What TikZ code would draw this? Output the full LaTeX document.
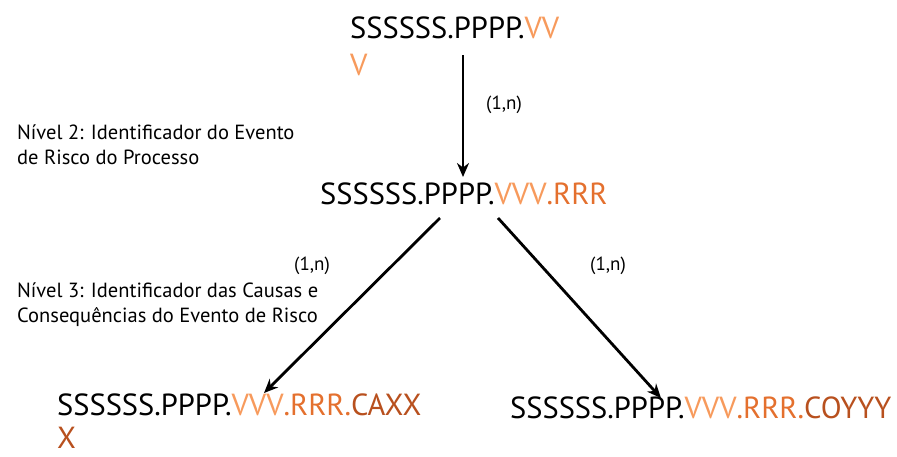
\documentclass[tikz,border=0pt]{standalone}
\usepackage{fontspec}
\setmainfont{PT Sans}
\usetikzlibrary{arrows.meta}
\definecolor{cV}{HTML}{F79A5C}
\definecolor{cR}{HTML}{E4702E}
\definecolor{cC}{HTML}{B8501E}
\begin{document}
\begin{tikzpicture}[x=1pt,y=-1pt,
  code/.style={font=\fontsize{30.5}{37}\selectfont, inner sep=0pt, anchor=base west, align=left},
  lbl/.style={font=\fontsize{20.5}{25}\selectfont, inner sep=0pt, anchor=base west, align=left},
  card/.style={font=\fontsize{19}{22}\selectfont, inner sep=0pt, anchor=base west},
  arr/.style={-{Stealth[length=14pt,width=12pt]}, line width=2.8pt}]
\useasboundingbox (0,0) rectangle (897,456);
\node[code] (top) at (350,75) {SSSSSS.PPPP.\textcolor{cV}{VV}\\\textcolor{cV}{V}};
\node[code] (mid) at (320,204) {SSSSSS.PPPP.\textcolor{cV}{VVV}\textcolor{cR}{.RRR}};
\node[code, font=\fontsize{30.5}{33}\selectfont] (bl) at (57,448) {SSSSSS.PPPP.\textcolor{cV}{VVV}\textcolor{cR}{.RRR.}\textcolor{cC}{CAXX}\\\textcolor{cC}{X}};
\node[code] (br) at (510,418) {SSSSSS.PPPP.\textcolor{cV}{VVV}\textcolor{cR}{.RRR.}\textcolor{cC}{COYYY}};
\coordinate (a1s) at (463,55);
\coordinate (a1e) at (463,177);
\coordinate (a2s) at (440,218);
\coordinate (a2e) at (264,393);
\coordinate (a3s) at (498,218);
\coordinate (a3e) at (661,398);
\draw[arr] (a1s) -- (a1e);
\draw[arr] (a2s) -- (a2e);
\draw[arr] (a3s) -- (a3e);
\node[card] (c1) at (486,109) {(1,n)};
\node[card] (c2) at (294,270) {(1,n)};
\node[card] (c3) at (590,270) {(1,n)};
\node[lbl] (l2) at (17,164) {Nível 2: Identificador do Evento\\de Risco do Processo};
\node[lbl] (l3) at (17,322) {Nível 3: Identificador das Causas e\\Consequências do Evento de Risco};
\end{tikzpicture}
\end{document}
